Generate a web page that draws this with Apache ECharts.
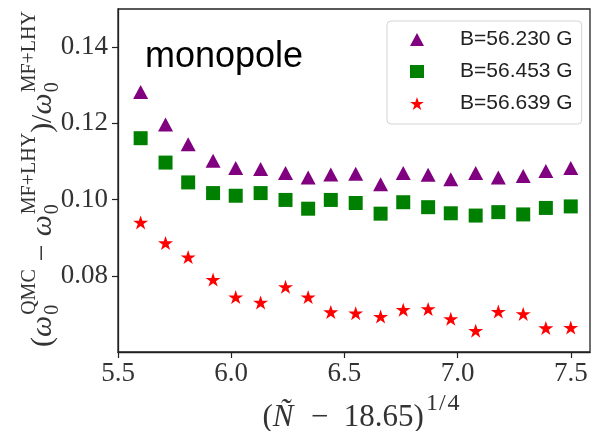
<!DOCTYPE html>
<html><head><meta charset="utf-8">
<script src="https://cdn.jsdelivr.net/npm/echarts@6/dist/echarts.min.js"></script>
<style>html,body{margin:0;padding:0;background:#fff}#c{width:593px;height:431px}</style>
</head><body><div id="c"></div>
<script>
// ---- data ----
const xValues = [5.60, 5.71, 5.81, 5.92, 6.02, 6.13, 6.24, 6.34, 6.44, 6.55, 6.66, 6.76, 6.87, 6.97, 7.08, 7.18, 7.29, 7.39, 7.50];
const seriesNames = ['B=56.230 G', 'B=56.453 G', 'B=56.639 G'];
const valuesB230 = [0.1282, 0.1197, 0.1145, 0.1102, 0.1083, 0.1080, 0.1070, 0.1058, 0.1066, 0.1068, 0.1040, 0.1070, 0.1065, 0.1053, 0.1070, 0.1058, 0.1062, 0.1075, 0.1083];
const valuesB453 = [0.1161, 0.1097, 0.1045, 0.1017, 0.1010, 0.1017, 0.0999, 0.0976, 0.0999, 0.0991, 0.0963, 0.0993, 0.0980, 0.0964, 0.0958, 0.0967, 0.0961, 0.0978, 0.0982];
const valuesB639 = [0.0940, 0.0886, 0.0849, 0.0790, 0.0744, 0.0730, 0.0771, 0.0744, 0.0705, 0.0702, 0.0693, 0.0711, 0.0713, 0.0687, 0.0656, 0.0706, 0.0700, 0.0663, 0.0664];
const xTicks = [5.5, 6.0, 6.5, 7.0, 7.5];
const yTicks = [0.08, 0.10, 0.12, 0.14];
const panelLabel = 'monopole';

// ---- styles ----
const SERIF = '"Liberation Serif", "DejaVu Serif", serif';
const SANS = '"Liberation Sans", Arial, sans-serif';
const STAR = 'path://M0,-100 L-22.45,-30.9 L-95.1,-30.9 L-36.3,11.8 L-58.8,80.9 L0,38.2 L58.8,80.9 L36.3,11.8 L95.1,-30.9 L22.45,-30.9 Z';

// y-axis name built from text pieces (stacked sub/superscripts)
const mctx = document.createElement('canvas').getContext('2d');
function tw(text, font) { mctx.font = font; return mctx.measureText(text).width; }
const fMain = '30px ' + SERIF, fIt = 'italic 30px ' + SERIF, fSm = '20px ' + SERIF;
const yNamePieces = [];
let cx = 0;
function put(text, font, dy, advance) {
  yNamePieces.push({
    type: 'text', x: cx, y: dy, silent: true,
    style: { text: text, font: font, fill: '#333', align: 'left', verticalAlign: 'middle', textAlign: 'left', textVerticalAlign: 'middle' }
  });
  const ww = tw(text, font);
  if (advance) cx += ww;
  return ww;
}
function stack(sub, sup) {
  const x0 = cx + 1;
  cx = x0;
  const a = put(sub, fSm, 10, false);
  const b = put(sup, fSm, -13, false);
  cx = x0 + Math.max(a, b);
}
put('(', fMain, 0, true);
put('ω', fIt, 0, true);
stack('0', 'QMC');
cx += 8; put('−', fMain, 0, true); cx += 8;
put('ω', fIt, 0, true);
stack('0', 'MF+LHY');
put(')', fMain, 0, true);
put('/', fMain, 0, true);
put('ω', fIt, 0, true);
stack('0', 'MF+LHY');

const chart = echarts.init(document.getElementById('c'), null, { renderer: 'canvas' });
const toPts = vals => xValues.map((x, i) => [x, vals[i]]);

chart.setOption({
  animation: false,
  backgroundColor: '#fff',
  title: {
    text: panelLabel, left: 145, top: 39, padding: 0,
    textStyle: { fontFamily: SANS, fontSize: 36, fontWeight: 'normal', color: '#000' }
  },
  grid: {
    left: 118, right: 3, top: 9, bottom: 79, containLabel: false, outerBoundsMode: 'none',
    show: true, borderColor: '#222', borderWidth: 1.3, backgroundColor: 'transparent'
  },
  xAxis: {
    type: 'value', min: 5.5, max: 7.585,
    splitLine: { show: false },
    axisLine: { show: true, onZero: false, lineStyle: { color: '#222', width: 1.3 } },
    axisTick: { show: true, length: 6, customValues: xTicks, lineStyle: { color: '#222', width: 1.2 } },
    axisLabel: { customValues: xTicks, margin: 8, fontFamily: SERIF, fontSize: 27, color: '#333', formatter: v => v.toFixed(1) },
    name: '{p|(}{i|Ñ}{p|  −  18.65)}{s|1}{t|/}{s|4}',
    nameLocation: 'middle', nameGap: 27,
    nameTextStyle: {
      padding: [0, 0, 0, 14],
      rich: {
        p: { fontFamily: SERIF, fontSize: 31, color: '#333', verticalAlign: 'bottom' },
        i: { fontFamily: SERIF, fontSize: 31, fontStyle: 'italic', color: '#333', verticalAlign: 'bottom', padding: [0, 2, 0, 0] },
        s: { fontFamily: SERIF, fontSize: 24, color: '#333', verticalAlign: 'bottom', padding: [0, 0, 17, 2] },
        t: { fontFamily: SERIF, fontSize: 24, color: '#333', verticalAlign: 'bottom', padding: [0, 0, 17, 1] }
      }
    }
  },
  yAxis: {
    type: 'value', min: 0.06, max: 0.15,
    splitLine: { show: false },
    axisLine: { show: true, onZero: false, lineStyle: { color: '#222', width: 1.3 } },
    axisTick: { show: true, length: 6, customValues: yTicks, lineStyle: { color: '#222', width: 1.2 } },
    axisLabel: { customValues: yTicks, margin: 10, fontFamily: SERIF, fontSize: 27, color: '#333', formatter: v => v.toFixed(2) }
  },
  legend: {
    orient: 'vertical', left: 387, top: 21,
    padding: [8, 9, 10, 23], itemGap: 11, itemWidth: 14, itemHeight: 13,
    backgroundColor: '#fff', borderColor: '#d4d4d4', borderWidth: 1, borderRadius: 4,
    selectedMode: false,
    textStyle: { fontFamily: SANS, fontSize: 21, color: '#222', padding: [0, 0, 0, 31] },
    data: [
      { name: seriesNames[0], icon: 'triangle' },
      { name: seriesNames[1], icon: 'rect' },
      { name: seriesNames[2], icon: STAR }
    ]
  },
  graphic: [{ type: 'group', x: 43, y: 347, rotation: Math.PI / 2, silent: true, children: yNamePieces }],
  series: [
    { name: seriesNames[0], type: 'scatter', symbol: 'triangle', symbolSize: [15, 14], itemStyle: { color: '#800080', opacity: 1 }, data: toPts(valuesB230) },
    { name: seriesNames[1], type: 'scatter', symbol: 'rect', symbolSize: [14, 14], itemStyle: { color: '#008000', opacity: 1 }, data: toPts(valuesB453) },
    { name: seriesNames[2], type: 'scatter', symbol: STAR, symbolSize: [15, 14], itemStyle: { color: '#ff0000', opacity: 1 }, data: toPts(valuesB639) }
  ]
});
</script>
</body></html>
